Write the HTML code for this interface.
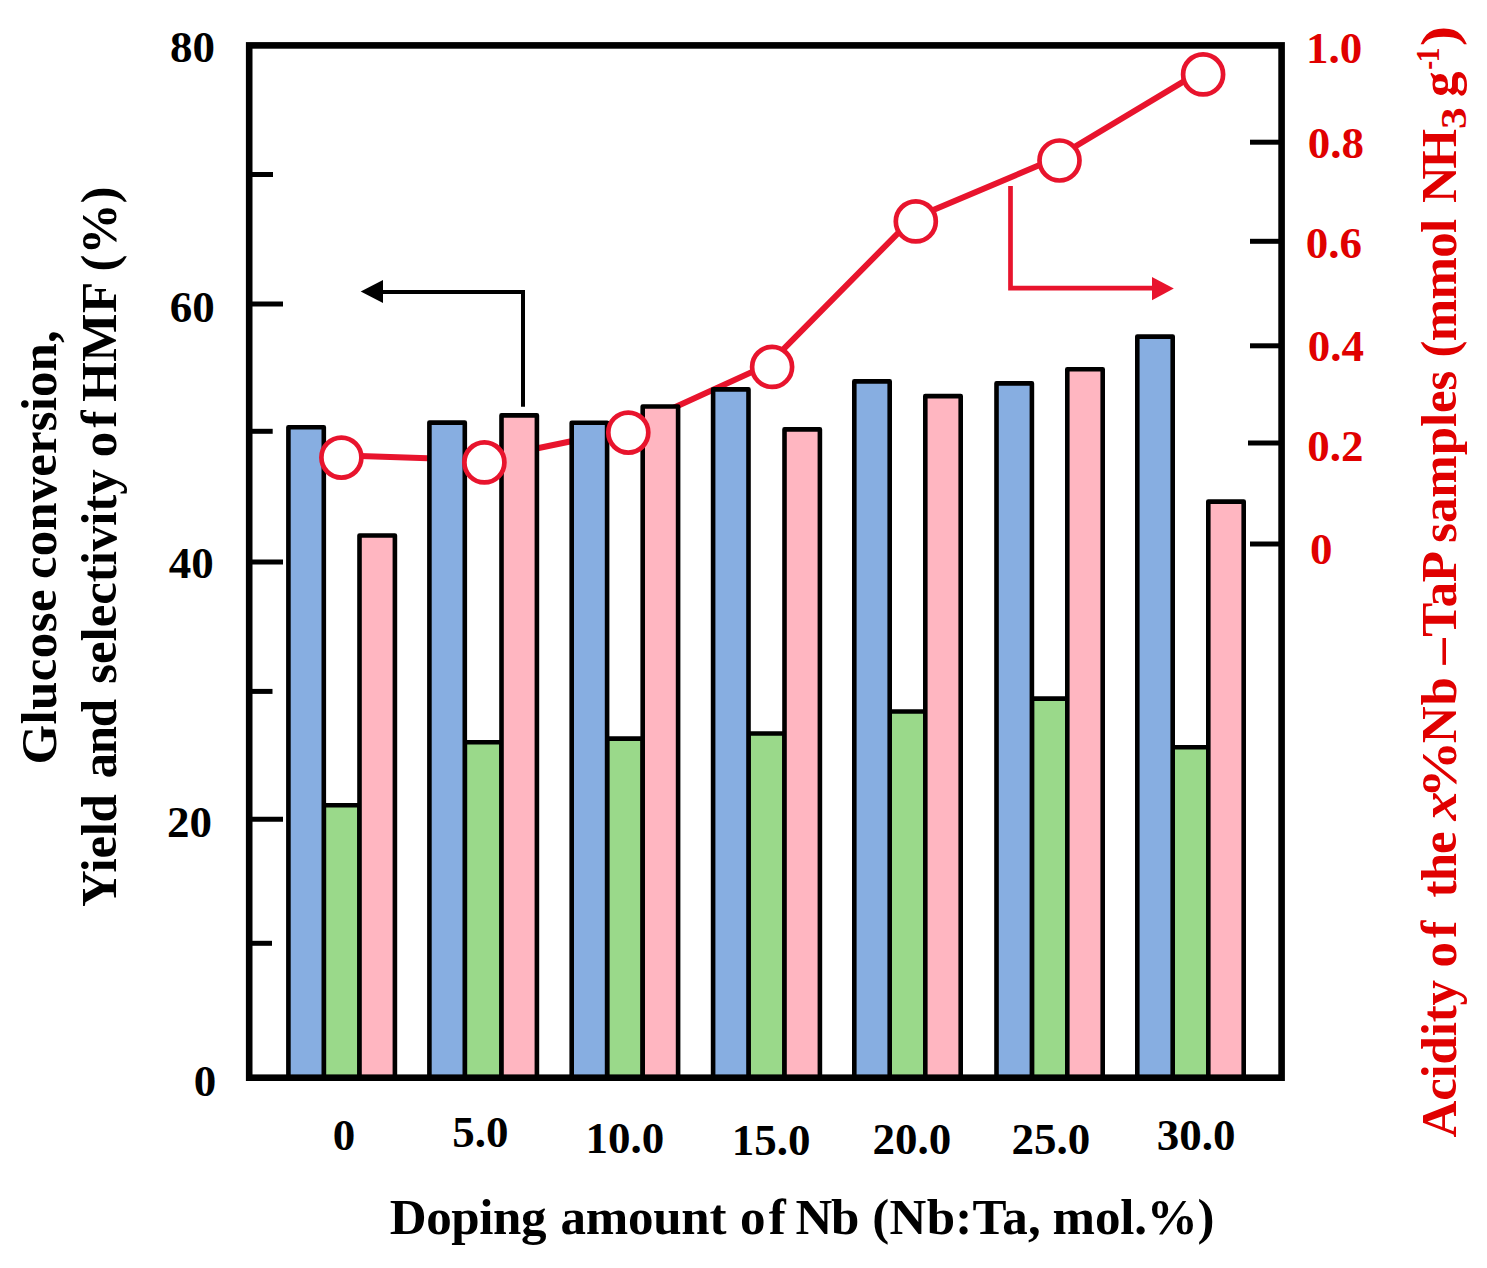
<!DOCTYPE html>
<html><head><meta charset="utf-8"><title>chart</title>
<style>
html,body{margin:0;padding:0;background:#fff;overflow:hidden;}
svg{display:block;}
text{font-family:"Liberation Serif",serif;font-weight:bold;}
</style></head><body>
<svg width="1487" height="1268" viewBox="0 0 1487 1268">
<rect x="0" y="0" width="1487" height="1268" fill="#fff"/>

<polyline points="337.5,455.3 480.5,460.1 624.4,430.3 768.2,364.6 911.9,219.1 1055.6,158.2 1199.2,72.1" fill="none" stroke="#e8142d" stroke-width="6" stroke-linejoin="round"/>
<rect x="323.80" y="805.20" width="35.70" height="272.80" fill="#9ad98a" stroke="#000" stroke-width="4.6" stroke-linejoin="round"/>
<rect x="288.40" y="427.20" width="35.40" height="650.80" fill="#87aee1" stroke="#000" stroke-width="4.6" stroke-linejoin="round"/>
<rect x="359.50" y="535.50" width="35.40" height="542.50" fill="#ffb6c1" stroke="#000" stroke-width="4.6" stroke-linejoin="round"/>
<rect x="464.80" y="742.30" width="36.70" height="335.70" fill="#9ad98a" stroke="#000" stroke-width="4.6" stroke-linejoin="round"/>
<rect x="429.40" y="422.60" width="35.40" height="655.40" fill="#87aee1" stroke="#000" stroke-width="4.6" stroke-linejoin="round"/>
<rect x="501.50" y="415.40" width="35.40" height="662.60" fill="#ffb6c1" stroke="#000" stroke-width="4.6" stroke-linejoin="round"/>
<rect x="607.10" y="738.60" width="35.60" height="339.40" fill="#9ad98a" stroke="#000" stroke-width="4.6" stroke-linejoin="round"/>
<rect x="571.70" y="422.70" width="35.40" height="655.30" fill="#87aee1" stroke="#000" stroke-width="4.6" stroke-linejoin="round"/>
<rect x="642.70" y="406.50" width="35.40" height="671.50" fill="#ffb6c1" stroke="#000" stroke-width="4.6" stroke-linejoin="round"/>
<rect x="748.50" y="733.50" width="36.00" height="344.50" fill="#9ad98a" stroke="#000" stroke-width="4.6" stroke-linejoin="round"/>
<rect x="713.10" y="389.40" width="35.40" height="688.60" fill="#87aee1" stroke="#000" stroke-width="4.6" stroke-linejoin="round"/>
<rect x="784.50" y="429.40" width="35.40" height="648.60" fill="#ffb6c1" stroke="#000" stroke-width="4.6" stroke-linejoin="round"/>
<rect x="889.70" y="711.50" width="35.60" height="366.50" fill="#9ad98a" stroke="#000" stroke-width="4.6" stroke-linejoin="round"/>
<rect x="854.30" y="381.40" width="35.40" height="696.60" fill="#87aee1" stroke="#000" stroke-width="4.6" stroke-linejoin="round"/>
<rect x="925.30" y="396.10" width="35.40" height="681.90" fill="#ffb6c1" stroke="#000" stroke-width="4.6" stroke-linejoin="round"/>
<rect x="1031.90" y="698.60" width="35.40" height="379.40" fill="#9ad98a" stroke="#000" stroke-width="4.6" stroke-linejoin="round"/>
<rect x="996.50" y="383.40" width="35.40" height="694.60" fill="#87aee1" stroke="#000" stroke-width="4.6" stroke-linejoin="round"/>
<rect x="1067.30" y="369.30" width="35.40" height="708.70" fill="#ffb6c1" stroke="#000" stroke-width="4.6" stroke-linejoin="round"/>
<rect x="1171.70" y="747.30" width="36.60" height="330.70" fill="#9ad98a" stroke="#000" stroke-width="4.6" stroke-linejoin="round"/>
<rect x="1137.30" y="336.60" width="35.40" height="741.40" fill="#87aee1" stroke="#000" stroke-width="4.6" stroke-linejoin="round"/>
<rect x="1208.30" y="501.60" width="35.40" height="576.40" fill="#ffb6c1" stroke="#000" stroke-width="4.6" stroke-linejoin="round"/>
<rect x="249.2" y="45.4" width="1032.4" height="1032.3" fill="none" stroke="#000" stroke-width="6.6"/>
<line x1="250" y1="174.5" x2="273.0" y2="174.5" stroke="#000" stroke-width="5"/>
<line x1="250" y1="304.0" x2="283.0" y2="304.0" stroke="#000" stroke-width="5"/>
<line x1="250" y1="431.3" x2="272.7" y2="431.3" stroke="#000" stroke-width="5"/>
<line x1="250" y1="562.0" x2="283.0" y2="562.0" stroke="#000" stroke-width="5"/>
<line x1="250" y1="691.4" x2="272.5" y2="691.4" stroke="#000" stroke-width="5"/>
<line x1="250" y1="819.3" x2="283.0" y2="819.3" stroke="#000" stroke-width="5"/>
<line x1="250" y1="943.3" x2="272.0" y2="943.3" stroke="#000" stroke-width="5"/>
<line x1="1250.0" y1="142.2" x2="1281" y2="142.2" stroke="#000" stroke-width="5"/>
<line x1="1250.0" y1="241.3" x2="1281" y2="241.3" stroke="#000" stroke-width="5"/>
<line x1="1250.0" y1="345.8" x2="1281" y2="345.8" stroke="#000" stroke-width="5"/>
<line x1="1248.0" y1="443.0" x2="1281" y2="443.0" stroke="#000" stroke-width="5"/>
<line x1="1250.0" y1="544.0" x2="1281" y2="544.0" stroke="#000" stroke-width="5"/>
<circle cx="341.4" cy="457.6" r="20" fill="#fff" stroke="#e8142d" stroke-width="4.7"/>
<circle cx="484.4" cy="462.4" r="20" fill="#fff" stroke="#e8142d" stroke-width="4.7"/>
<circle cx="628.3" cy="432.6" r="20" fill="#fff" stroke="#e8142d" stroke-width="4.7"/>
<circle cx="772.1" cy="366.9" r="20" fill="#fff" stroke="#e8142d" stroke-width="4.7"/>
<circle cx="915.8" cy="221.4" r="20" fill="#fff" stroke="#e8142d" stroke-width="4.7"/>
<circle cx="1059.5" cy="160.5" r="20" fill="#fff" stroke="#e8142d" stroke-width="4.7"/>
<circle cx="1203.1" cy="74.4" r="20" fill="#fff" stroke="#e8142d" stroke-width="4.7"/>
<polyline points="382,292 523,292 523,406.8" fill="none" stroke="#000" stroke-width="4"/>
<polygon points="360.7,291.5 383,280 383,303" fill="#000"/>
<polyline points="1010.5,186 1010.5,288.2 1153,288.2" fill="none" stroke="#e8142d" stroke-width="4.7"/>
<polygon points="1173.8,288.4 1152,276.9 1152,300.2" fill="#e8142d"/>
<text x="169.90" y="61.62" font-size="45.0" fill="#000">80</text>
<text x="169.80" y="321.52" font-size="45.0" fill="#000">60</text>
<text x="168.68" y="578.42" font-size="45.0" fill="#000">40</text>
<text x="167.12" y="837.33" font-size="45.0" fill="#000">20</text>
<text x="193.75" y="1096.42" font-size="45.0" fill="#000">0</text>
<text x="1305.88" y="62.88" font-size="45.0" fill="#e00000">1.0</text>
<text x="1307.75" y="157.97" font-size="45.0" fill="#e00000">0.8</text>
<text x="1305.85" y="257.98" font-size="45.0" fill="#e00000">0.6</text>
<text x="1307.75" y="361.48" font-size="45.0" fill="#e00000">0.4</text>
<text x="1307.25" y="461.27" font-size="45.0" fill="#e00000">0.2</text>
<text x="1310.05" y="563.83" font-size="45.0" fill="#e00000">0</text>
<text x="332.85" y="1150.12" font-size="45.0" fill="#000">0</text>
<text x="452.25" y="1147.17" font-size="45.0" fill="#000">5.0</text>
<text x="585.58" y="1153.28" font-size="45.0" fill="#000">10.0</text>
<text x="731.67" y="1154.78" font-size="45.0" fill="#000">15.0</text>
<text x="872.42" y="1153.97" font-size="45.0" fill="#000">20.0</text>
<text x="1011.52" y="1153.97" font-size="45.0" fill="#000">25.0</text>
<text x="1156.85" y="1150.38" font-size="45.0" fill="#000">30.0</text>
<text x="389.82" y="1233.80" font-size="51.0" fill="#000" letter-spacing="-0.395">Doping</text>
<text x="560.58" y="1233.80" font-size="51.0" fill="#000" letter-spacing="-0.275">amount</text>
<text x="740.00" y="1233.80" font-size="51.0" fill="#000" letter-spacing="3.300">of</text>
<text x="795.40" y="1233.80" font-size="51.0" fill="#000" letter-spacing="-1.125">Nb</text>
<text x="872.25" y="1233.80" font-size="51.0" fill="#000" letter-spacing="0.300">(Nb:Ta,</text>
<text x="1052.62" y="1233.80" font-size="51.0" fill="#000" letter-spacing="-0.190">mol.%)</text>
<text transform="translate(55.60,764.60) rotate(-90)" font-size="51.0" fill="#000" letter-spacing="0.400">Glucose</text>
<text transform="translate(55.60,579.05) rotate(-90)" font-size="51.0" fill="#000" letter-spacing="0.095">conversion,</text>
<text transform="translate(116.00,906.98) rotate(-90)" font-size="51.0" fill="#000" letter-spacing="-0.344">Yield</text>
<text transform="translate(116.00,778.52) rotate(-90)" font-size="51.0" fill="#000" letter-spacing="-1.350">and</text>
<text transform="translate(116.00,683.80) rotate(-90)" font-size="51.0" fill="#000" letter-spacing="-0.065">selectivity</text>
<text transform="translate(116.00,457.20) rotate(-90)" font-size="51.0" fill="#000" letter-spacing="4.100">of</text>
<text transform="translate(116.00,401.77) rotate(-90)" font-size="51.0" fill="#000" letter-spacing="0.438">HMF</text>
<text transform="translate(116.00,271.45) rotate(-90)" font-size="51.0" fill="#000" letter-spacing="0.000">(%)</text>
<text transform="translate(1455.60,1137.50) rotate(-90)" font-size="51.0" fill="#e00000" letter-spacing="-0.188">Acidity</text>
<text transform="translate(1455.60,967.60) rotate(-90)" font-size="51.0" fill="#e00000" letter-spacing="4.400">of</text>
<text transform="translate(1455.60,897.48) rotate(-90)" font-size="51.0" fill="#e00000" letter-spacing="-0.875">the</text>
<text transform="translate(1455.60,798.20) rotate(-90) scale(1.124,1)" font-size="51.0" fill="#e00000">%</text>
<text transform="translate(1455.60,743.20) rotate(-90)" font-size="51.0" fill="#e00000" letter-spacing="0.875">Nb</text>
<text transform="translate(1455.60,664.62) rotate(-90) scale(1.025,1)" font-size="51.0" fill="#e00000">–</text>
<text transform="translate(1455.60,636.65) rotate(-90)" font-size="51.0" fill="#e00000" letter-spacing="-0.225">TaP</text>
<text transform="translate(1455.60,542.80) rotate(-90)" font-size="51.0" fill="#e00000" letter-spacing="-0.104">samples</text>
<text transform="translate(1455.60,357.45) rotate(-90)" font-size="51.0" fill="#e00000" letter-spacing="-0.725">(mmol</text>
<text transform="translate(1455.60,203.10) rotate(-90)" font-size="51.0" fill="#e00000" letter-spacing="-2.325">NH</text>
<text transform="translate(1455.60,96.98) rotate(-90) scale(1.003,1)" font-size="51.0" fill="#e00000">g</text>
<text transform="translate(1455.60,46.17) rotate(-90) scale(1.211,1)" font-size="51.0" fill="#e00000">)</text>
<text transform="translate(1455.60,820.59) rotate(-90) scale(1.138,1)" font-size="51.0" fill="#e00000" font-style="italic">x</text>
<text transform="translate(1466.00,129.10) rotate(-90) scale(1.237,1)" font-size="35.0" fill="#e00000">3</text>
<text transform="translate(1439.10,69.71) rotate(-90) scale(0.812,1)" font-size="33.0" fill="#e00000">-</text>
<text transform="translate(1439.10,62.48) rotate(-90) scale(0.907,1)" font-size="33.0" fill="#e00000">1</text>
</svg></body></html>
